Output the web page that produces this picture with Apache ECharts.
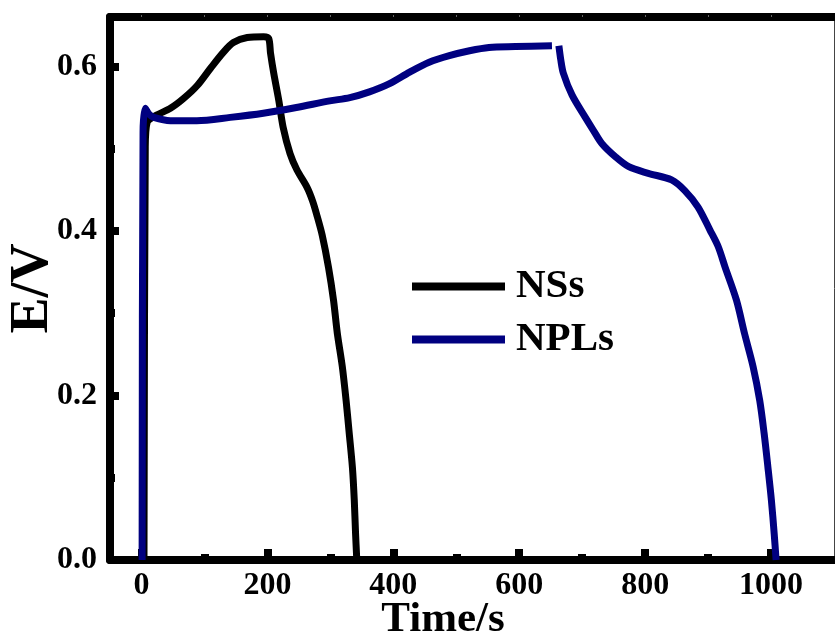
<!DOCTYPE html>
<html>
<head>
<meta charset="utf-8">
<script src="https://cdn.jsdelivr.net/npm/echarts@6/dist/echarts.min.js"></script>
<style>html,body{margin:0;padding:0;background:#fff}#c{width:835px;height:641px}</style>
</head>
<body>
<div id="c"></div>
<script>
// NSs (black)
var nssTime = [4, 6, 9, 22, 46, 67, 89, 110, 130, 146, 168, 194, 202, 205, 210, 218, 225, 236, 247, 263, 272, 279, 287, 297, 305, 311, 319, 325, 330, 335, 338, 340, 342];
var nssE    = [0, 0.50, 0.532, 0.540, 0.549, 0.561, 0.577, 0.598, 0.617, 0.629, 0.635, 0.636, 0.634, 0.616, 0.592, 0.559, 0.526, 0.494, 0.474, 0.453, 0.436, 0.418, 0.395, 0.356, 0.316, 0.276, 0.235, 0.194, 0.154, 0.113, 0.073, 0.033, 0];
// NPLs (navy) - null marks the small break at the top
var nplTime = [1, 2.5, 6, 12, 19.5, 46, 88, 141, 193.5, 246, 299, 331, 362, 394, 426, 457, 489, 521, 552, 594, 652, 657, 663, 666, 670, 684, 705, 718, 731.5, 753, 774, 805, 842, 863, 884, 903, 916, 927, 945, 958, 971.5, 982, 989, 995, 1000.5, 1005, 1008];
var nplE    = [0, 0.52, 0.549, 0.542, 0.538, 0.534, 0.534, 0.538, 0.543, 0.550, 0.558, 0.562, 0.569, 0.579, 0.593, 0.605, 0.613, 0.619, 0.623, 0.624, 0.625, null, 0.625, 0.608, 0.592, 0.565, 0.538, 0.522, 0.506, 0.490, 0.478, 0.470, 0.462, 0.449, 0.429, 0.401, 0.381, 0.356, 0.316, 0.275, 0.235, 0.194, 0.154, 0.113, 0.073, 0.032, 0];

var xMajor = [0, 200, 400, 600, 800, 1000];
var xMinor = [100, 300, 500, 700, 900];
var xTop = [0, 100, 200, 300, 400, 500, 600, 700, 800, 900, 1000];
var yMajor = [0, 0.2, 0.4, 0.6];
var yMinor = [0.1, 0.3, 0.5];

function pairs(t, e) { return t.map(function (v, i) { return [v, e[i]]; }); }

var FONT = "'Liberation Serif', 'Times New Roman', serif";
var chart = echarts.init(document.getElementById('c'), null, {renderer: 'canvas'});

chart.setOption({
  animation: false,
  backgroundColor: '#fff',
  grid: {left: 110, right: 1, top: 17, bottom: 81, containLabel: false, outerBoundsMode: 'none'},
  legend: [
    {data: ['NSs'], left: 412, top: 266, padding: 0, icon: 'rect', itemWidth: 93, itemHeight: 8, selectedMode: false,
     textStyle: {fontFamily: FONT, fontWeight: 'bold', fontSize: 41, color: '#000', padding: [0, 0, 0, 6]}},
    {data: ['NPLs'], left: 412, top: 319, padding: 0, icon: 'rect', itemWidth: 93, itemHeight: 8, selectedMode: false,
     textStyle: {fontFamily: FONT, fontWeight: 'bold', fontSize: 41, color: '#000', padding: [0, 0, 0, 6]}}
  ],
  xAxis: [
    {type: 'value', min: -50, max: 1100, position: 'bottom',
     axisLine: {show: true, onZero: false, lineStyle: {color: '#000', width: 8}},
     axisTick: {show: true, inside: true, length: 11, customValues: xMajor, lineStyle: {color: '#000', width: 8}},
     axisLabel: {show: true, customValues: xMajor, margin: 10, fontFamily: FONT, fontWeight: 'bold', fontSize: 32, color: '#000',
       formatter: function (v) { return String(v); }},
     splitLine: {show: false},
     name: 'Time/s', nameLocation: 'middle', nameGap: 38, nameMoveOverlap: false,
     nameTextStyle: {fontFamily: FONT, fontWeight: 'bold', fontSize: 43, color: '#000', padding: [0, 58, 0, 0]}},
    {type: 'value', min: -50, max: 1100, position: 'bottom',
     axisLine: {show: false, onZero: false},
     axisTick: {show: true, inside: true, length: 6, customValues: xMinor, lineStyle: {color: '#000', width: 8}},
     axisLabel: {show: false}, splitLine: {show: false}},
    {type: 'value', min: -50, max: 1100, position: 'top',
     axisLine: {show: true, onZero: false, lineStyle: {color: '#000', width: 8}},
     axisTick: {show: true, inside: false, length: 2, customValues: xTop, lineStyle: {color: '#666', width: 1}},
     axisLabel: {show: false}, splitLine: {show: false}}
  ],
  yAxis: [
    {type: 'value', min: 0, max: 0.66, position: 'left',
     axisLine: {show: true, onZero: false, lineStyle: {color: '#000', width: 8}},
     axisTick: {show: true, inside: true, length: 9, customValues: yMajor, lineStyle: {color: '#000', width: 8}},
     axisLabel: {show: true, customValues: yMajor, margin: 13, fontFamily: FONT, fontWeight: 'bold', fontSize: 32, color: '#000',
       formatter: function (v) { return v.toFixed(1); }},
     splitLine: {show: false},
     name: 'E/V', nameLocation: 'middle', nameGap: 50, nameMoveOverlap: false,
     nameTextStyle: {fontFamily: FONT, fontWeight: 'bold', fontSize: 54, color: '#000'}},
    {type: 'value', min: 0, max: 0.66, position: 'left',
     axisLine: {show: false, onZero: false},
     axisTick: {show: true, inside: true, length: 5, customValues: yMinor, lineStyle: {color: '#000', width: 8}},
     axisLabel: {show: false}, splitLine: {show: false}},
    {type: 'value', min: 0, max: 0.66, position: 'right',
     axisLine: {show: true, onZero: false, lineStyle: {color: '#444', width: 1}},
     axisTick: {show: false}, axisLabel: {show: false}, splitLine: {show: false}}
  ],
  series: [
    {name: 'NSs', type: 'line', data: pairs(nssTime, nssE), showSymbol: false, symbol: 'none',
     smooth: 0.3, color: '#000', lineStyle: {color: '#000', width: 7, join: 'round', cap: 'butt'}},
    {name: 'NPLs', type: 'line', data: pairs(nplTime, nplE), showSymbol: false, symbol: 'none', connectNulls: false,
     smooth: 0.3, color: '#000080', lineStyle: {color: '#000080', width: 7, join: 'round', cap: 'butt'}}
  ]
});
</script>
</body>
</html>
